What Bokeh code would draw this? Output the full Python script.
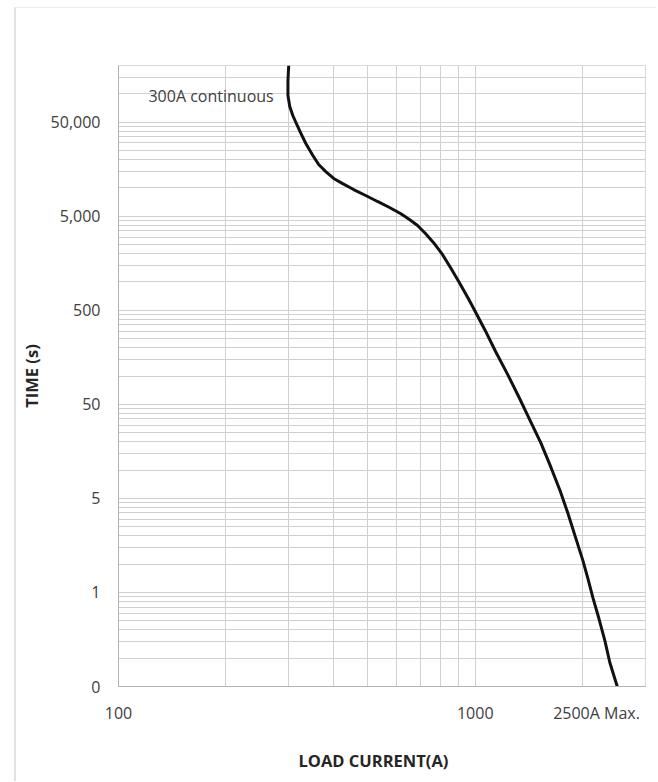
from bokeh.plotting import figure
from bokeh.models import FixedTicker, CustomJSTickFormatter, Label, Range1d
from bokeh.embed import file_html
from bokeh.resources import INLINE

# ---- data ----
load_current = [300, 298.5, 298.5, 302, 308, 316, 324.5, 335, 350.5, 364, 381, 401,
                425, 456, 493, 532, 575, 617, 654, 689, 725, 763, 809, 852, 902,
                956, 1010, 1066, 1140, 1229, 1327, 1424, 1529, 1631, 1728, 1819,
                1902, 2003, 2069, 2136, 2221, 2308, 2383, 2500]
trip_time = [200000, 138700, 95900, 73300, 58800, 47200, 37900, 29650, 22100, 17700,
             14900, 12600, 11100, 9600, 8300, 7170, 6190, 5340, 4610, 3980, 3270,
             2630, 1960, 1425, 987, 667, 451, 305, 182, 106, 59.1, 33.7, 19.2, 10.6,
             6.07, 3.45, 2.02, 1.09, 0.70, 0.44, 0.264, 0.154, 0.090, 0.05]

NBSP = "\u00a0"
x_ticks = [100, 1000, 2500]
x_tick_labels = ["100", "1000", "2500A Max." + NBSP * 4]
y_ticks = [0.05, 0.5, 5, 50, 500, 5000, 50000]
y_tick_labels = ["0", "1", "5", "50", "500", "5,000", "50,000"]

x_min, x_max = 100, 3000
y_min, y_max = 0.05, 200000

# gridline positions (log-paper style)
x_grid = [m * 100 for m in range(1, 10)] + [1000, 2000, 3000]
y_grid = []
base = 0.05
while base < y_max:
    for m in range(1, 10):
        v = base * m
        if v <= y_max * 1.0001:
            y_grid.append(v)
    base *= 10
y_grid.append(y_max)

FONT = "Open Sans"

p = figure(width=642, height=774,
           x_axis_type="log", y_axis_type="log",
           x_range=Range1d(x_min, x_max), y_range=Range1d(y_min, y_max),
           output_backend="svg", toolbar_location=None,
           min_border_left=101, min_border_right=13,
           min_border_top=57, min_border_bottom=96,
           background_fill_color="white", border_fill_color="white")
p.styles = {"margin-left": "14px", "margin-top": "7px",
            "border-left": "2px solid #e2e2e2", "border-top": "1px solid #ececec"}

p.outline_line_color = "#d9d9d9"

fmt_code = """
const i = tvals.findIndex(t => Math.abs(t - tick) / t < 1e-6);
return i >= 0 ? tlabels[i] : "";
"""
p.xaxis.ticker = FixedTicker(ticks=x_ticks)
p.xaxis.formatter = CustomJSTickFormatter(args=dict(tvals=x_ticks, tlabels=x_tick_labels), code=fmt_code)
p.yaxis.ticker = FixedTicker(ticks=y_ticks)
p.yaxis.formatter = CustomJSTickFormatter(args=dict(tvals=y_ticks, tlabels=y_tick_labels), code=fmt_code)

p.xgrid.ticker = FixedTicker(ticks=x_grid)
p.ygrid.ticker = FixedTicker(ticks=y_grid)
p.xgrid.grid_line_color = "#d0d0d0"
p.ygrid.grid_line_color = "#d0d0d0"
p.xgrid.grid_line_width = 1
p.ygrid.grid_line_width = 1

for ax in (p.xaxis, p.yaxis):
    ax.major_tick_line_color = None
    ax.minor_tick_line_color = None
    ax.major_tick_out = 0
    ax.major_tick_in = 0
    ax.axis_line_color = "#b3b3b3"
    ax.major_label_text_font = FONT
    ax.major_label_text_font_size = "16px"
    ax.major_label_text_color = "#404040"
    ax.axis_label_text_font = FONT
    ax.axis_label_text_font_size = "16.5px"
    ax.axis_label_text_font_style = "bold"
    ax.axis_label_text_color = "#262626"

p.xaxis.axis_label = "LOAD CURRENT(A)" + NBSP * 4
p.yaxis.axis_label = "TIME (s)"
p.xaxis.major_label_standoff = 15
p.xaxis.axis_label_standoff = 22
p.yaxis.major_label_standoff = 18
p.yaxis.axis_label_standoff = 5

p.line(load_current, trip_time, line_color="#111111", line_width=3)

p.add_layout(Label(x=300, y=93700, x_offset=-15, text="300A continuous",
                   text_align="right", text_baseline="middle",
                   text_font=FONT, text_font_size="16px", text_color="#404040"))

open("out.html", "w").write(file_html(p, INLINE))
